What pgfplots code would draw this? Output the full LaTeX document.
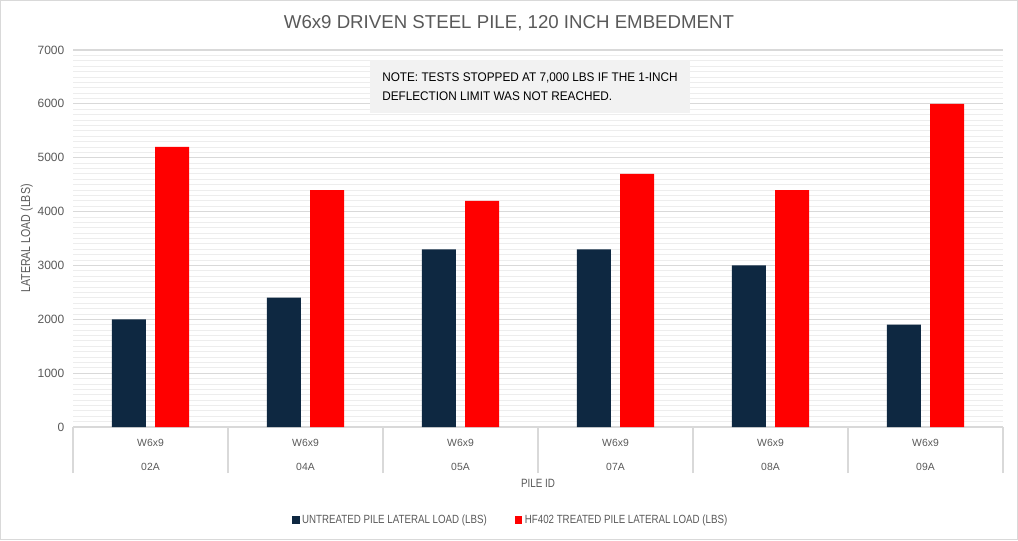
\documentclass[border=0pt]{standalone}
\usepackage{fontspec}
\setmainfont{Liberation Sans}
\newfontfamily\narrowfont[FakeStretch=0.82]{Liberation Sans}
\newfontfamily\notefont[FakeStretch=0.94]{Liberation Sans}
\usepackage{pgfplots}
\pgfplotsset{compat=1.18}
\definecolor{navy}{HTML}{0E2841}
\definecolor{txt}{HTML}{595959}
\definecolor{majgrid}{HTML}{D9D9D9}
\definecolor{mingrid}{HTML}{EDEDED}
\definecolor{notebg}{HTML}{F2F2F2}
\begin{document}
\begin{tikzpicture}[x=0.75pt,y=0.75pt]
\useasboundingbox (0,0) rectangle (1018,540);
\draw[majgrid, line width=1.2pt] (0.6,0.6) rectangle (1017.4,539.4);
\begin{axis}[
  at={(54.75pt,84.75pt)}, anchor=south west,
  scale only axis, width=697.5pt, height=282.75pt,
  ybar=7pt, bar width=25.5pt,
  xmin=-0.5, xmax=5.5, ymin=0, ymax=7000,
  xtick={0,...,5},
  xticklabels={W6x9\\02A, W6x9\\04A, W6x9\\05A, W6x9\\07A, W6x9\\08A, W6x9\\09A},
  xticklabel style={align=center, font=\fontsize{7.8}{18}\selectfont, text=txt, yshift=-5.5pt},
  minor xtick={-0.5,0.5,...,5.5},
  tick align=outside,
  major tick length=0pt,
  minor tick length=34.5pt,
  xtick style={draw=majgrid, line width=0.8pt},
  tick pos=left,
  ytick={0,1000,...,7000},
  minor y tick num=9,
  ymajorgrids, yminorgrids,
  major grid style={majgrid, line width=0.8pt},
  minor grid style={mingrid, line width=0.6pt},
  ytick style={draw=none},
  axis line style={draw=none},
  scaled y ticks=false,
  yticklabel style={font=\fontsize{9}{10}\selectfont, text=txt, xshift=-3pt,
    /pgf/number format/set thousands separator={}, /pgf/number format/assume math mode=true},
  title={W6x9 DRIVEN STEEL PILE, 120 INCH EMBEDMENT},
  title style={at={(axis description cs:0.4688,1)}, anchor=center, yshift=13.85pt,
    font=\fontsize{14}{15}\selectfont, text=txt},
  xlabel={PILE ID},
  xlabel style={at={(axis description cs:0.5,0)}, anchor=center, yshift=-42pt,
    font=\narrowfont\fontsize{9}{10}\selectfont, text=txt},
  ylabel={LATERAL LOAD (LBS)},
  ylabel style={at={(axis description cs:-0.0498,0.5)}, anchor=center,
    font=\narrowfont\fontsize{9.7}{10}\selectfont, text=txt},
  legend style={at={(axis description cs:0.471,0)}, anchor=center, yshift=-69.75pt,
    draw=none, fill=none, legend columns=2,
    font=\narrowfont\fontsize{8.9}{10}\selectfont, text=txt,
    /tikz/every even column/.append style={column sep=19pt}},
  legend image code/.code={\fill[#1] (0pt,-2.8pt) rectangle (5.6pt,2.8pt);},
]
\addplot[fill=navy, draw=none] coordinates {(0,2000) (1,2400) (2,3300) (3,3300) (4,3000) (5,1900)};
\addplot[fill=red, draw=none] coordinates {(0,5200) (1,4400) (2,4200) (3,4700) (4,4400) (5,6000)};
\legend{UNTREATED PILE LATERAL LOAD (LBS), HF402 TREATED PILE LATERAL LOAD (LBS)}
\node[fill=notebg, minimum width=240pt, minimum height=39.75pt,
  inner sep=4pt, align=left, anchor=center, text=black,
  font=\notefont\fontsize{9.4}{14.25}\selectfont]
  at (rel axis cs:0.4914,0.9032) {NOTE: TESTS STOPPED AT 7,000 LBS IF THE 1-INCH\\DEFLECTION LIMIT WAS NOT REACHED.};
\end{axis}
\end{tikzpicture}
\end{document}
